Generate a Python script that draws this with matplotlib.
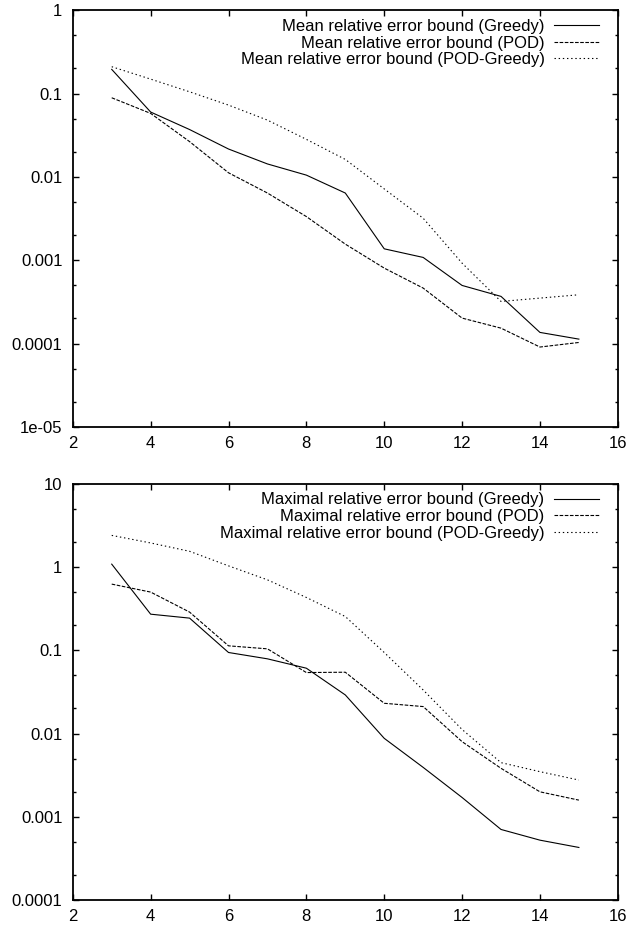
import matplotlib
matplotlib.use('Agg')
import matplotlib.pyplot as plt
from matplotlib.ticker import LogLocator, FixedLocator, FuncFormatter, NullFormatter

plt.rcParams['font.family'] = ['Liberation Sans', 'DejaVu Sans']
plt.rcParams['lines.scale_dashes'] = False

# basis size N
n = [3, 4, 5, 6, 7, 8, 9, 10, 11, 12, 13, 14, 15]

# mean relative error bounds
mean_greedy = [0.195, 0.060, 0.037, 0.0216, 0.0143, 0.0105, 0.0064, 0.00137, 0.00108,
               0.000498, 0.000368, 0.000136, 0.000113]
mean_pod = [0.089, 0.0578, 0.0265, 0.0112, 0.0064, 0.00334, 0.00156, 0.000804, 0.000463,
            0.000202, 0.000153, 0.0000908, 0.000103]
mean_podgreedy = [0.21, 0.149, 0.105, 0.0727, 0.048, 0.0282, 0.0162, 0.00717, 0.00319,
                  0.000922, 0.00032, 0.000351, 0.000385]

# maximal relative error bounds
max_greedy = [1.08, 0.271, 0.243, 0.094, 0.0789, 0.0609, 0.0291, 0.00877, 0.00393,
              0.00171, 0.000707, 0.000526, 0.00043]
max_pod = [0.622, 0.499, 0.287, 0.113, 0.104, 0.054, 0.0545, 0.0231, 0.0211,
           0.008, 0.00383, 0.002, 0.00159]
max_podgreedy = [2.39, 1.94, 1.54, 1.03, 0.70, 0.43, 0.254, 0.094, 0.0334,
                 0.0112, 0.00448, 0.00349, 0.00277]

labels_mean = ['Mean relative error bound (Greedy)', 'Mean relative error bound (POD)',
               'Mean relative error bound (POD-Greedy)']
labels_max = ['Maximal relative error bound (Greedy)', 'Maximal relative error bound (POD)',
              'Maximal relative error bound (POD-Greedy)']

FS = 12
styles = ['-', (0, (2.6, 1.1)), (0, (1.0, 2.0))]

fig = plt.figure(figsize=(6.33, 9.30), dpi=100)
ax1 = fig.add_axes([0.115, 0.541, 0.861, 0.448])
ax2 = fig.add_axes([0.115, 0.032, 0.861, 0.448])


def setup(ax, series, labels, ylo, yhi):
    for ys, ls, lab in zip(series, styles, labels):
        ax.plot(n, ys, color='black', lw=0.8, linestyle=ls, label=lab)
    ax.set_yscale('log')
    ax.set_xlim(2, 16)
    ax.set_ylim(ylo, yhi)
    ax.xaxis.set_major_locator(FixedLocator(range(2, 17, 2)))
    ax.yaxis.set_major_locator(LogLocator(base=10, numticks=20))
    ax.yaxis.set_minor_locator(LogLocator(base=10, subs=(2.0, 5.0), numticks=20))
    ax.yaxis.set_major_formatter(FuncFormatter(lambda v, p: '%g' % v))
    ax.yaxis.set_minor_formatter(NullFormatter())
    ax.tick_params(which='both', direction='in', top=True, right=True, labelsize=FS, width=1.0)
    ax.tick_params(which='major', length=4.0)
    ax.tick_params(which='minor', length=2.5)
    ax.tick_params(axis='y', pad=7.5)
    ax.tick_params(axis='x', pad=6.5)
    for s in ax.spines.values():
        s.set_linewidth(1.3)
    leg = ax.legend(loc='upper right', bbox_to_anchor=(0.965, 0.979), frameon=False,
                    markerfirst=False, fontsize=FS, handlelength=2.7, handletextpad=0.55,
                    labelspacing=0.1, borderaxespad=0, borderpad=0)
    for col in leg._legend_handle_box.get_children():
        col.align = 'right'


setup(ax1, [mean_greedy, mean_pod, mean_podgreedy], labels_mean, 1e-5, 1)
setup(ax2, [max_greedy, max_pod, max_podgreedy], labels_max, 1e-4, 10)

fig.savefig('out.png', dpi=100)
